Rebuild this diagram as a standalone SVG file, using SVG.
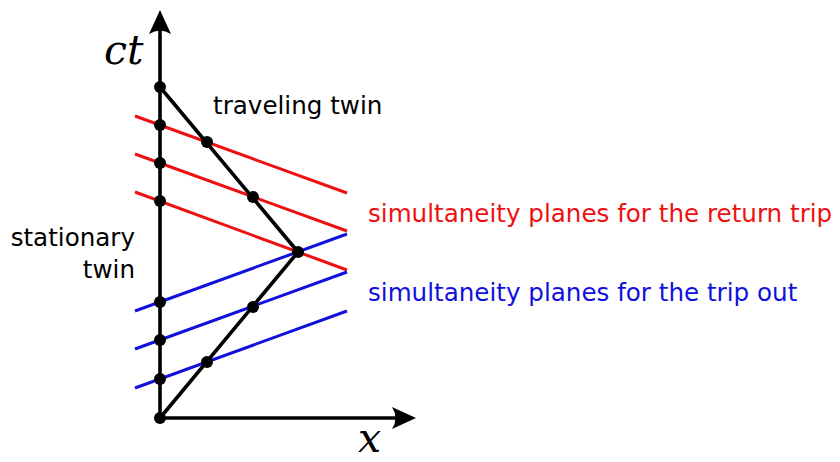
<svg xmlns="http://www.w3.org/2000/svg" width="840" height="462" viewBox="0 0 840 462">
<style>
.ax{stroke:#000;stroke-width:3.6;fill:none}
.wl{stroke:#000;stroke-width:3.6;fill:none;stroke-linejoin:round}
.r{stroke:#ee1111;stroke-width:3}
.b{stroke:#1111dd;stroke-width:3}
.d{fill:#000}
.t{font-family:"DejaVu Sans",sans-serif;font-size:24.6px}
.m{font-family:"DejaVu Serif","Liberation Serif",serif;font-style:italic;font-size:41px}
</style>
<rect width="840" height="462" fill="#fff"/>
<g id="connectors">
<g id="red-planes">
<line class="r" x1="135" y1="116" x2="347" y2="193"/>
<line class="r" x1="135" y1="154" x2="347" y2="231"/>
<line class="r" x1="135" y1="192" x2="347" y2="270"/>
</g>
<g id="blue-planes">
<line class="b" x1="135" y1="311" x2="347" y2="234"/>
<line class="b" x1="135" y1="349" x2="347" y2="272"/>
<line class="b" x1="135" y1="388" x2="347" y2="311"/>
</g>
<path id="worldline" class="wl" d="M160,418 L298,252 L160,87"/>
<g id="axes">
<line class="ax" x1="160" y1="418" x2="160" y2="24"/>
<line class="ax" x1="160" y1="418" x2="402" y2="418"/>
<path d="M160,10 L171,34 Q160,27 149,34 Z" fill="#000"/>
<path d="M416,418 L392,429 Q399,418 392,407 Z" fill="#000"/>
</g>
</g>
<g id="events">
<circle class="d" cx="160" cy="87" r="6"/>
<circle class="d" cx="160" cy="125" r="6"/>
<circle class="d" cx="160" cy="163" r="6"/>
<circle class="d" cx="160" cy="201" r="6"/>
<circle class="d" cx="160" cy="302" r="6"/>
<circle class="d" cx="160" cy="340" r="6"/>
<circle class="d" cx="160" cy="379" r="6"/>
<circle class="d" cx="160" cy="418" r="6"/>
<circle class="d" cx="207" cy="142" r="6"/>
<circle class="d" cx="253" cy="197" r="6"/>
<circle class="d" cx="298" cy="252" r="6"/>
<circle class="d" cx="253" cy="307" r="6"/>
<circle class="d" cx="207" cy="362" r="6"/>
</g>
<g id="labels">
<text class="m" x="104" y="64">ct</text>
<text class="m" x="358" y="452">x</text>
<text class="t" x="213" y="114">traveling twin</text>
<text class="t" x="135" y="246" text-anchor="end">stationary</text>
<text class="t" x="135" y="278" text-anchor="end">twin</text>
<text class="t" x="368" y="222" fill="#ee1111">simultaneity planes for the return trip</text>
<text class="t" x="368" y="301" fill="#1111dd">simultaneity planes for the trip out</text>
</g>
</svg>
